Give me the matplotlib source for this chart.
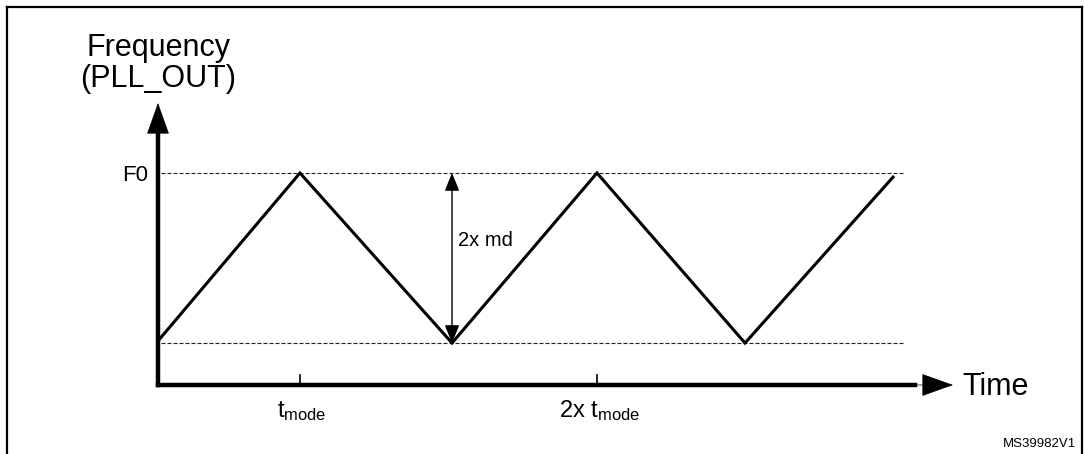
import matplotlib
matplotlib.use("Agg")
import matplotlib.pyplot as plt
from matplotlib.lines import Line2D

plt.rcParams['font.family'] = ['Liberation Sans', 'DejaVu Sans']
plt.rcParams['mathtext.fontset'] = 'custom'
plt.rcParams['mathtext.rm'] = 'Liberation Sans'
plt.rcParams['mathtext.it'] = 'Liberation Sans'

# triangle wave (time in half periods, frequency normalised: 0 = F0 - 2x md, 1 = F0)
time = [0.0, 0.956, 1.98, 2.956, 3.953, 4.95]
freq = [0.012, 1.0, 0.0, 1.0, 0.0, 0.976]

tick_pos = [0.956, 2.956]
tick_labels = [r'$\mathrm{t}_{\mathrm{mode}}$', r'$\mathrm{2x\ t}_{\mathrm{mode}}$']

ref_levels = [1.0, 0.0]      # F0 and low level (dashed)
md_time = 1.98               # where the 2x md arrow sits

fig = plt.figure(figsize=(10.85, 4.54), dpi=100)
ax = fig.add_axes([0, 0, 1, 1])
ax.set_xlim(-158 / 148.5, (1085 - 158) / 148.5)
ax.set_ylim((343 - 454) / 170, 343 / 170)
ax.axis('off')

# outer frame (bottom is cut off in the original)
fr = dict(color='black', lw=1.6, transform=fig.transFigure)
fig.add_artist(Line2D([7 / 1085, 7 / 1085], [0, 1 - 7 / 454], **fr))
fig.add_artist(Line2D([1082 / 1085, 1082 / 1085], [0, 1 - 7 / 454], **fr))
fig.add_artist(Line2D([7 / 1085, 1082 / 1085], [1 - 7 / 454, 1 - 7 / 454], **fr))

# dashed reference lines
for lv in ref_levels:
    ax.plot([0.02, 5.03], [lv, lv], color='#222222', lw=0.8,
            linestyle=(0, (3.6, 1.8)))

# triangle waveform
ax.plot(time, freq, color='black', lw=2.2, solid_joinstyle='miter')

# axes with arrows
y0 = -0.247
ax.plot([0, 0], [y0, 1.25], color='black', lw=3.2, solid_capstyle='projecting')
ax.plot([0, 5.1], [y0, y0], color='black', lw=3.2, solid_capstyle='projecting')
head = "-|>,head_length=21,head_width=7.5"
ax.annotate('', xy=(0, (343 - 103) / 170), xytext=(0, 1.2),
            arrowprops=dict(arrowstyle=head, mutation_scale=1, lw=0.5,
                            color='black', shrinkA=0, shrinkB=0))
ax.annotate('', xy=((953 - 158) / 148.5, y0), xytext=(5.0, y0),
            arrowprops=dict(arrowstyle=head, mutation_scale=1, lw=0.5,
                            color='black', shrinkA=0, shrinkB=0))

# ticks on time axis
for tp, tl in zip(tick_pos, tick_labels):
    ax.plot([tp, tp], [y0, -0.188], color='black', lw=1.2)
    ax.text(tp + 0.015, -0.435, tl, fontsize=17, ha='center', va='baseline')

# 2x md double arrow
ax.annotate('', xy=(md_time, 1.0), xytext=(md_time, 0.0),
            arrowprops=dict(arrowstyle="<|-|>,head_length=11,head_width=4.5",
                            mutation_scale=1, lw=1.0, color='black',
                            shrinkA=0, shrinkB=0))
ax.text(2.02, 0.571, '2x md', fontsize=14.5, ha='left', va='baseline')

# labels
ax.text(0, 1.688, 'Frequency', fontsize=22, ha='center', va='baseline')
ax.text(0, 1.506, '(PLL_OUT)', fontsize=22, ha='center', va='baseline')
ax.text(-0.067, 0.953, 'F0', fontsize=16, ha='right', va='baseline')
ax.text(5.42, -0.306, 'Time', fontsize=22, ha='left', va='baseline')
ax.text(6.18, -0.612, 'MS39982V1', fontsize=9.5, ha='right', va='baseline')

fig.savefig('out.png', dpi=100)
